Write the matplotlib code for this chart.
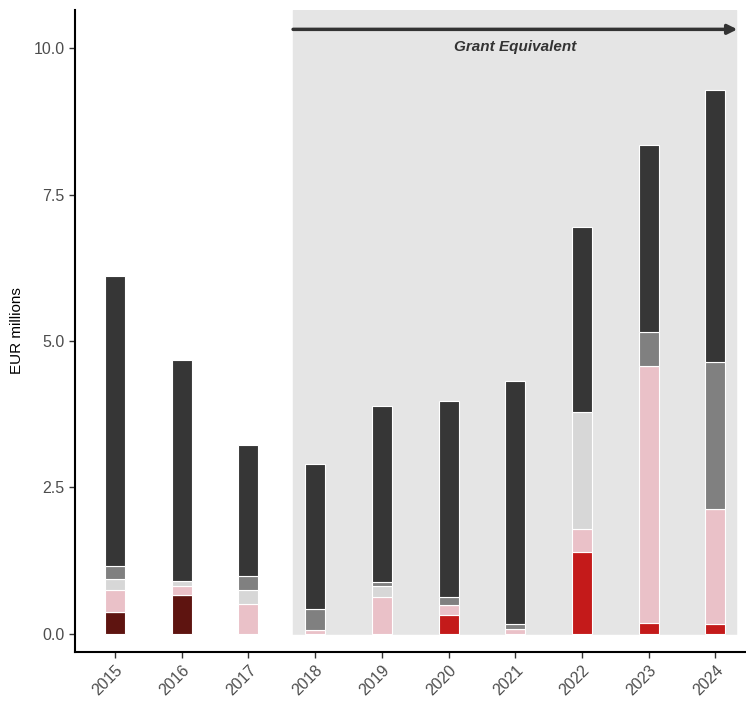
import numpy as np
import matplotlib.pyplot as plt

plt.rcParams['font.family'] = ['Liberation Sans', 'DejaVu Sans']

years = ['2015', '2016', '2017', '2018', '2019', '2020', '2021', '2022', '2023', '2024']

# stacked segments, bottom to top (EUR millions)
dark_red = [0.38, 0.67, 0, 0, 0, 0, 0, 0, 0, 0]
red = [0, 0, 0, 0, 0, 0.32, 0, 1.40, 0.18, 0.17]
pink = [0.37, 0.14, 0.50, 0.07, 0.62, 0.17, 0.085, 0.39, 4.40, 1.96]
light_grey = [0.18, 0.09, 0.24, 0, 0.19, 0, 0, 1.99, 0, 0]
grey = [0.22, 0, 0.25, 0.36, 0.07, 0.14, 0.08, 0, 0.57, 2.51]
dark_grey = [4.96, 3.78, 2.24, 2.47, 3.01, 3.35, 4.15, 3.17, 3.19, 4.64]

series = [
    (dark_red, '#5e1410'),
    (red, '#c41a1a'),
    (pink, '#eac1c8'),
    (light_grey, '#d7d7d7'),
    (grey, '#808080'),
    (dark_grey, '#363636'),
]

fig = plt.figure(figsize=(7.46, 7.01), dpi=100)
ax = fig.add_axes([0.1005, 0.07, 0.8995, 0.9157])

x = np.arange(len(years))

# shaded grant equivalent period
ax.axvspan(2.67, 9.31, ymin=0, ymax=1, color='#e5e5e5', zorder=0)
ax.fill_between([-1, 12], -1, -0.02, color='white', zorder=0.5)

bottom = np.zeros(len(years))
for vals, col in series:
    vals = np.array(vals, dtype=float)
    ax.bar(x, vals, width=0.3, bottom=bottom, color=col, edgecolor='white',
           linewidth=0.8, zorder=2)
    bottom += vals

ax.annotate('', xy=(9.33, 10.32), xytext=(2.67, 10.32),
            arrowprops=dict(arrowstyle='-|>', color='#333333', lw=2.5,
                            mutation_scale=14, shrinkA=0, shrinkB=0), zorder=3)
ax.text(6.0, 10.02, 'Grant Equivalent', ha='center', va='center',
        style='italic', fontweight='bold', fontsize=11, color='#333333')

ax.set_xlim(-0.6, 9.46)
ax.set_ylim(-0.31, 10.65)
ax.set_yticks([0, 2.5, 5, 7.5, 10])
ax.set_yticklabels(['0.0', '2.5', '5.0', '7.5', '10.0'])
ax.set_xticks(x)
ax.set_xticklabels(years, rotation=45, ha='right', rotation_mode='anchor')
ax.tick_params(axis='both', colors='#333333', labelcolor='#4d4d4d', labelsize=11.5,
               length=4, width=1)
ax.set_ylabel('EUR millions', fontsize=11, color='black', labelpad=7)

for s in ['top', 'right']:
    ax.spines[s].set_visible(False)
for s in ['left', 'bottom']:
    ax.spines[s].set_linewidth(1.5)

fig.savefig('out.png', dpi=100)
